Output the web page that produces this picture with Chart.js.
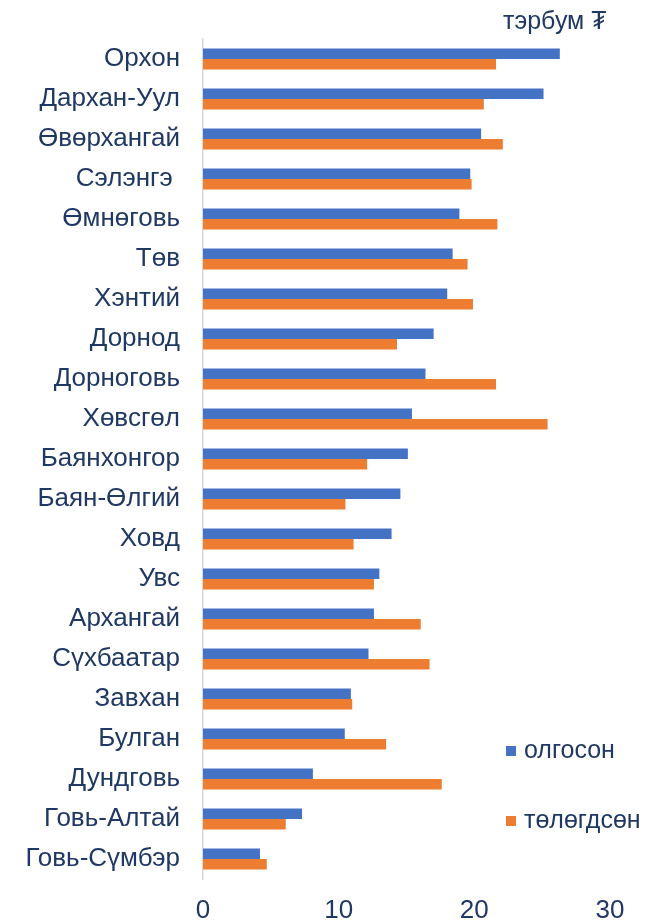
<!DOCTYPE html>
<html>
<head>
<meta charset="utf-8">
<script src="https://cdn.jsdelivr.net/npm/chart.js@4"></script>
<style>
html,body{margin:0;padding:0;background:#fff;}
#wrap{position:relative;width:667px;height:924px;}
</style>
</head>
<body>
<div id="wrap"><canvas id="c" width="667" height="924"></canvas></div>
<script>
const categories = ["Орхон","Дархан-Уул","Өвөрхангай","Сэлэнгэ ","Өмнөговь","Төв","Хэнтий","Дорнод","Дорноговь","Хөвсгөл","Баянхонгор","Баян-Өлгий","Ховд","Увс","Архангай","Сүхбаатар","Завхан","Булган","Дундговь","Говь-Алтай","Говь-Сүмбэр"];
const olgoson = [26.3,25.1,20.5,19.7,18.9,18.4,18.0,17.0,16.4,15.4,15.1,14.55,13.9,13.0,12.6,12.2,10.9,10.45,8.1,7.3,4.2];
const tologdson = [21.6,20.7,22.1,19.8,21.7,19.5,19.9,14.3,21.6,25.4,12.1,10.5,11.1,12.6,16.05,16.7,11.0,13.5,17.6,6.1,4.7];
const seriesNames = ["олгосон","төлөгдсөн"];
const xTicks = [0,10,20,30];
const unitLabel = "тэрбум ₮";

const TEXT = "#1f3864";
const FONT = "'Liberation Sans', Arial, 'DejaVu Sans', sans-serif";
const FS = 26;

const extras = {
  id: 'extras',
  afterDraw(chart) {
    const ctx = chart.ctx;
    ctx.save();
    ctx.fillStyle = TEXT;
    ctx.font = "25px " + FONT;
    ctx.textBaseline = 'middle';
    ctx.textAlign = 'left';
    ctx.fillText(unitLabel, 503, 22);
    const ys = [751, 821];
    chart.data.datasets.forEach((ds, i) => {
      ctx.fillStyle = ds.backgroundColor;
      ctx.fillRect(506, ys[i] - 5, 10, 10);
      ctx.fillStyle = TEXT;
      ctx.fillText(ds.label, 524, ys[i]);
    });
    ctx.restore();
  }
};

new Chart(document.getElementById('c'), {
  type: 'bar',
  data: {
    labels: categories,
    datasets: [
      {label: seriesNames[0], data: olgoson, backgroundColor: '#4472C4', categoryPercentage: 0.52, barPercentage: 1.0},
      {label: seriesNames[1], data: tologdson, backgroundColor: '#ED7D31', categoryPercentage: 0.52, barPercentage: 1.0}
    ]
  },
  options: {
    indexAxis: 'y',
    responsive: false,
    animation: false,
    devicePixelRatio: 1,
    layout: {padding: {left: 0, right: 57, top: 39, bottom: 0}},
    plugins: {legend: {display: false}, tooltip: {enabled: false}, title: {display: false}},
    scales: {
      x: {
        min: 0, max: 30,
        afterBuildTicks(s) { s.ticks = xTicks.map(v => ({value: v})); },
        grid: {display: false, drawTicks: false},
        border: {display: false},
        ticks: {color: TEXT, font: {family: FONT, size: FS}, padding: 16, maxRotation: 0},
        afterFit(s) { s.height = 45; }
      },
      y: {
        grid: {display: false, drawTicks: false},
        border: {display: true, color: '#d9d9d9', width: 1.5},
        ticks: {color: TEXT, font: {family: FONT, size: FS}, padding: 23, autoSkip: false},
        afterFit(s) { s.width = 203; }
      }
    }
  },
  plugins: [extras]
});
</script>
</body>
</html>
